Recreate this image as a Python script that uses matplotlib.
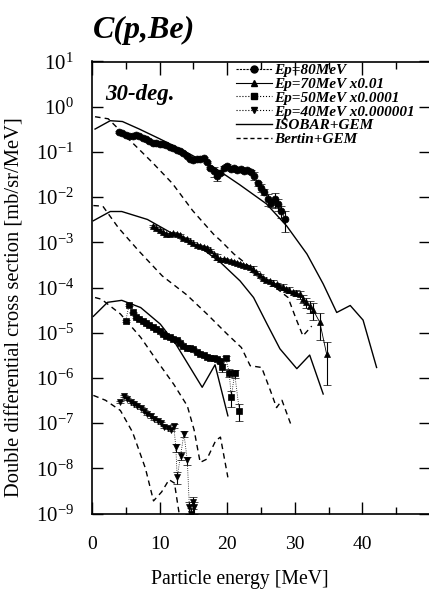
import matplotlib
matplotlib.use("Agg")
import matplotlib.pyplot as plt
from matplotlib.ticker import LogLocator, MultipleLocator, NullLocator
from matplotlib.lines import Line2D
import numpy as np

plt.rcParams['font.family'] = ['Liberation Serif', 'DejaVu Serif']
plt.rcParams['mathtext.fontset'] = 'stix'

# ---------------- data ----------------
# Ep = 80 MeV (circles)
e80 = [4.0, 4.5, 5.0, 5.5, 6.0, 6.5, 7.0, 7.5, 8.0, 8.5, 9.0, 9.5, 10.0, 10.5, 11.0,
       11.5, 12.0, 12.5, 13.0, 13.5, 14.0, 14.5, 15.0, 15.5, 16.0, 16.5, 17.0, 17.5,
       18.0, 18.5, 19.0, 19.5, 20.0, 20.5, 21.0, 21.5, 22.0, 22.5, 23.0, 23.5, 24.0,
       24.5, 25.0, 25.5, 26.0, 26.5, 27.0, 27.5, 28.0, 28.5]
y80 = [0.27, 0.26, 0.24, 0.23, 0.23, 0.235, 0.22, 0.20, 0.19, 0.17, 0.16, 0.155,
       0.15, 0.15, 0.145, 0.13, 0.12, 0.11, 0.105, 0.095, 0.08, 0.07, 0.065, 0.07,
       0.068, 0.072, 0.06, 0.045, 0.038, 0.03, 0.035, 0.045, 0.048, 0.042, 0.045,
       0.04, 0.042, 0.038, 0.04, 0.036, 0.03, 0.02, 0.016, 0.013, 0.009, 0.0075,
       0.009, 0.007, 0.005, 0.0033]
r80 = [0.05] * 28 + [0.25, 0.25] + [0.1] * 10 + [0.2, 0.1, 0.2, 0.15, 0.3, 0.2, 0.35, 0.3, 0.3, 0.5]

# Ep = 70 MeV x0.01 (triangles up)
e70 = [9.0, 9.5, 10.0, 10.5, 11.0, 11.5, 12.0, 12.5, 13.0, 13.5, 14.0, 14.5, 15.0,
       15.5, 16.0, 16.5, 17.0, 17.5, 18.0, 18.5, 19.0, 19.5, 20.0, 20.5, 21.0, 21.4,
       21.9, 22.3, 22.8, 23.3, 23.8, 24.3, 24.8, 25.3, 25.8, 26.3, 26.8, 27.3, 27.7,
       28.2, 28.7, 29.2, 29.7, 30.2, 30.7, 31.2, 31.7, 32.2, 32.7, 33.7, 34.7]
y70 = [2.3e-3, 2.1e-3, 1.9e-3, 1.65e-3, 1.5e-3, 1.5e-3, 1.6e-3, 1.5e-3, 1.45e-3,
       1.25e-3, 1.2e-3, 1.05e-3, 9.5e-4, 8.7e-4, 8.3e-4, 8.0e-4, 7.4e-4, 6.6e-4,
       5.6e-4, 4.7e-4, 4.3e-4, 4.2e-4, 4.0e-4, 3.8e-4, 3.7e-4, 3.5e-4, 3.3e-4,
       3.2e-4, 3.0e-4, 2.8e-4, 2.6e-4, 2.2e-4, 1.9e-4, 1.65e-4, 1.5e-4, 1.4e-4,
       1.25e-4, 1.17e-4, 1.1e-4, 1.02e-4, 9.5e-5, 8.7e-5, 8.1e-5, 7.6e-5, 7.1e-5,
       5.6e-5, 4.7e-5, 3.8e-5, 3.2e-5, 1.7e-5, 3.4e-6]
r70 = [0.05] * 19 + [0.15] + [0.05] * 10 + [0.15] + [0.05] * 5 + [0.15, 0.05, 0.05,
       0.15, 0.05, 0.15, 0.05, 0.15, 0.2, 0.2, 0.25, 0.3, 0.4, 0.6, 0.8]

# Ep = 50 MeV x0.0001 (squares)
e50 = [5.0, 5.5, 6.0, 6.5, 7.0, 7.5, 8.0, 8.5, 9.0, 9.5, 10.0, 10.5, 11.0, 11.5,
       12.0, 12.5, 13.0, 13.5, 14.0, 14.5, 15.0, 15.5, 16.0, 16.5, 17.0, 17.5, 18.0,
       18.5, 19.0, 19.3, 19.8, 20.3, 20.6, 21.1, 21.8]
y50 = [1.86e-5, 4.2e-5, 2.8e-5, 2.2e-5, 2.0e-5, 1.8e-5, 1.6e-5, 1.45e-5, 1.35e-5,
       1.2e-5, 1.07e-5, 9.5e-6, 8.5e-6, 7.9e-6, 7.4e-6, 6.8e-6, 6.0e-6, 5.2e-6,
       4.7e-6, 4.5e-6, 4.3e-6, 3.7e-6, 3.3e-6, 3.2e-6, 2.95e-6, 2.8e-6, 2.75e-6,
       2.6e-6, 2.4e-6, 1.7e-6, 2.75e-6, 1.3e-6, 3.7e-7, 1.26e-6, 1.86e-7]
r50 = [0.05] * 28 + [0.1, 0.2, 0.1, 0.2, 0.4, 0.2, 0.4]

# Ep = 40 MeV x0.000001 (triangles down)
e40 = [4.2, 4.7, 5.2, 5.7, 6.2, 6.7, 7.2, 7.7, 8.2, 8.7, 9.2, 9.7, 10.2, 10.7, 11.2,
       11.7, 12.1, 12.4, 12.6, 13.1, 13.6, 14.1, 14.4, 14.6, 14.9, 15.1]
y40 = [2.9e-7, 4.0e-7, 3.5e-7, 3.0e-7, 2.6e-7, 2.4e-7, 2.2e-7, 1.9e-7, 1.6e-7,
       1.4e-7, 1.26e-7, 1.12e-7, 1.0e-7, 8.3e-8, 7.6e-8, 7.1e-8, 8.7e-8, 2.9e-8,
       6.3e-9, 1.9e-8, 5.8e-8, 1.5e-8, 1.4e-9, 1.0e-9, 1.8e-9, 1.4e-9]
r40 = [0.05] * 16 + [0.1, 0.2, 0.3, 0.2, 0.15, 0.2, 0.3, 0.3, 0.3, 0.3]

# ISOBAR+GEM (solid)
ei80 = [0.45, 2.7, 4.5, 7.0, 10.0, 14.0, 18.0, 21.8, 25.8, 28.8, 31.8, 34.2, 36.2, 38.2, 40.1, 42.1]
yi80 = [0.32, 0.49, 0.47, 0.32, 0.195, 0.098, 0.046, 0.019, 0.0071, 0.0023,
        5.5e-4, 1.2e-4, 2.8e-5, 4.0e-5, 1.9e-5, 1.7e-6]
ei70 = [0.2, 2.7, 4.4, 8.2, 12.1, 16.0, 19.0, 21.9, 23.9, 25.9, 27.8, 30.3, 32.2, 34.2]
yi70 = [3.0e-3, 4.8e-3, 4.8e-3, 3.2e-3, 1.5e-3, 7.8e-4, 3.6e-4, 1.4e-4, 6.0e-5,
        1.55e-5, 4.4e-6, 1.6e-6, 3.2e-6, 4.4e-7]
ei50 = [0.2, 2.3, 4.4, 7.2, 10.1, 12.4, 16.3, 18.2, 20.1]
yi50 = [2.3e-5, 4.7e-5, 5.2e-5, 3.6e-5, 1.55e-5, 5.6e-6, 6.2e-7, 1.95e-6, 1.45e-7]

# Bertini+GEM (dashed)
eb80 = [0.45, 2.4, 4.9, 8.9, 11.9, 14.9, 18.0, 19.0, 21.0, 29.0, 30.2, 31.2, 32.5]
yb80 = [0.6, 0.54, 0.23, 0.059, 0.02, 0.005, 1.5e-3, 1.1e-3, 5.5e-4, 6.0e-5,
        2.0e-5, 8.5e-6, 1.4e-5]
eb70 = [0.2, 1.6, 3.9, 6.9, 10.4, 14.0, 17.0, 20.0, 22.1, 23.4, 25.1, 26.4, 27.3, 28.1, 29.4]
yb70 = [6.5e-3, 6.3e-3, 2.1e-3, 6.5e-4, 1.8e-4, 6.9e-5, 2.6e-5, 9.3e-6, 4.7e-6,
        1.86e-6, 1.7e-6, 5.2e-7, 2.2e-7, 3.2e-7, 9.5e-8]
eb50 = [0.45, 1.4, 4.2, 7.2, 9.6, 12.1, 14.1, 15.1, 16.0, 17.0, 18.3, 19.0, 20.1]
yb50 = [6.0e-5, 5.5e-5, 2.6e-5, 7.9e-6, 2.4e-6, 7.2e-7, 2.4e-7, 7.1e-8, 1.35e-8,
        1.6e-8, 4.1e-8, 4.9e-8, 6.3e-9]
eb40 = [0.2, 2.0, 4.2, 6.0, 7.9, 9.1, 10.3, 11.4, 12.2, 12.6, 13.0]
yb40 = [4.1e-7, 3.2e-7, 1.9e-7, 6.3e-8, 1.0e-8, 1.9e-9, 3.0e-9, 5.6e-9, 4.7e-9,
        1.9e-9, 7.9e-10]

legend_labels = ["Ep=80MeV", "Ep=70MeV x0.01", "Ep=50MeV x0.0001",
                 "Ep=40MeV x0.000001", "ISOBAR+GEM", "Bertin+GEM"]

# ---------------- figure ----------------
fig = plt.figure(figsize=(4.29, 5.92), dpi=100)
ax = fig.add_axes([92 / 429, 78.5 / 592, 338 / 429, 452 / 592])

series_styles = [('o', (0, (2, 1))), ('^', '-'), ('s', ':'), ('v', ':')]

def data_series(e, y, r, marker, ls):
    y = np.array(y)
    err = y * np.array(r)
    ax.errorbar(e, y, yerr=[np.minimum(err, y * 0.8), err], fmt=marker, color='black',
                ms=5, mew=0.5, mfc='black', mec='black', ls=ls, lw=0.6,
                elinewidth=0.8, capsize=3, capthick=0.8)

for (e, y, r), (mk, ls) in zip([(e80, y80, r80), (e70, y70, r70), (e50, y50, r50),
                                (e40, y40, r40)], series_styles):
    data_series(e, y, r, mk, ls)

for e, y in [(ei80, yi80), (ei70, yi70), (ei50, yi50)]:
    ax.plot(e, y, color='black', lw=1.0, ls='-')
for e, y in [(eb80, yb80), (eb70, yb70), (eb50, yb50), (eb40, yb40)]:
    ax.plot(e, y, color='black', lw=1.0, ls=(0, (4, 3)))

ax.set_yscale('log')
ax.set_xlim(0, 50)
ax.set_ylim(1e-9, 1e1)
ax.yaxis.set_major_locator(LogLocator(base=10, numticks=20))
ax.yaxis.set_minor_locator(NullLocator())
ax.xaxis.set_major_locator(MultipleLocator(10))
ax.xaxis.set_minor_locator(MultipleLocator(5))
ax.set_xticks([0, 10, 20, 30, 40])
ax.tick_params(axis='both', which='major', direction='in', length=9, width=1.0,
               top=True, right=True)
ax.tick_params(axis='x', which='minor', direction='in', length=5, width=1.0, top=True)
ax.tick_params(axis='x', which='major', pad=16, labelsize=14)
ax.tick_params(axis='y', which='major', pad=13, length=8, labelsize=15)
for s in ax.spines.values():
    s.set_linewidth(1.2)

ax.set_xlabel("Particle energy [MeV]", fontsize=14.2)
ax.xaxis.set_label_coords(0.438, -0.125)
ax.set_ylabel("Double differential cross section [mb/sr/MeV]", fontsize=14.8)
ax.yaxis.set_label_coords(-0.2, 0.457)

ax.text(0.04, 0.926, "30-deg.", transform=ax.transAxes, fontsize=16.5,
        fontweight='bold', fontstyle='italic', va='center', ha='left')
fig.text(93 / 429, 1 - 30 / 592, "C(p,Be)", fontsize=23, fontweight='bold',
         fontstyle='italic', va='center', ha='left')

handles = [Line2D([], [], color='black', marker=mk, ms=5, ls=ls, lw=0.8)
           for mk, ls in series_styles]
handles += [Line2D([], [], color='black', lw=1.0, ls='-'),
            Line2D([], [], color='black', lw=1.0, ls=(0, (3, 2)))]
leg = ax.legend(handles=handles, labels=legend_labels, loc='upper left',
                bbox_to_anchor=(0.425, 0.995), frameon=False,
                prop={'weight': 'bold', 'style': 'italic', 'size': 11},
                handlelength=2.4, handletextpad=0.15, labelspacing=0.0,
                borderpad=0, borderaxespad=0)

fig.savefig("out.png", dpi=100)
